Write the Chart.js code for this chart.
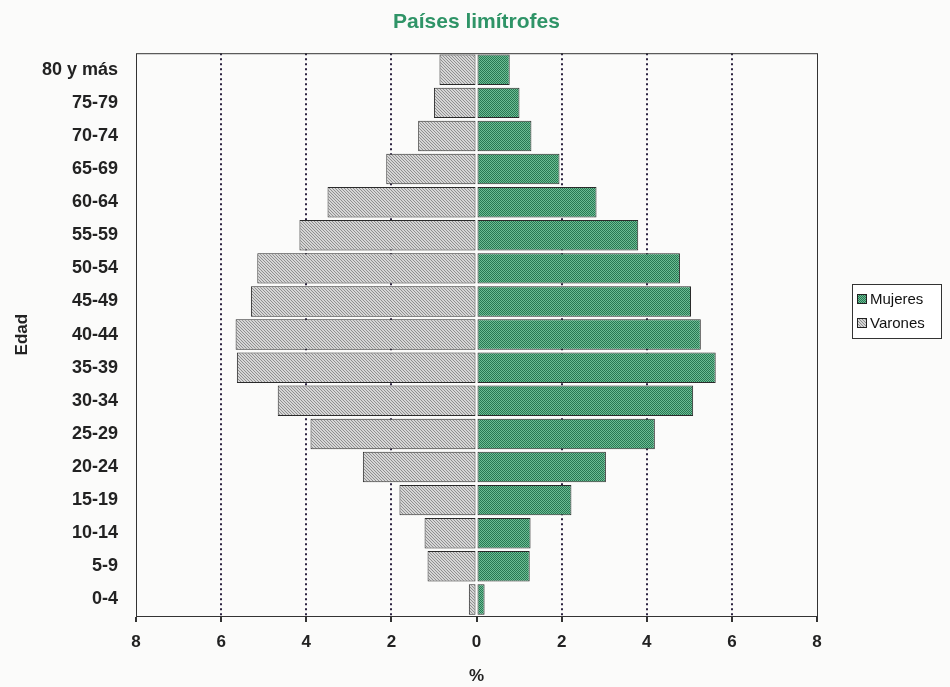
<!DOCTYPE html>
<html>
<head>
<meta charset="utf-8">
<script src="https://cdn.jsdelivr.net/npm/chart.js@4"></script>
<style>
  html, body { margin: 0; padding: 0; background: #fbfbfa; }
  #wrap { width: 950px; height: 687px; }
</style>
</head>
<body>
<div id="wrap"><canvas id="pyramidChart" width="950" height="687"></canvas></div>
<script>
// Age groups, top to bottom as in the picture
const edades = ['80 y más', '75-79', '70-74', '65-69', '60-64', '55-59', '50-54', '45-49',
  '40-44', '35-39', '30-34', '25-29', '20-24', '15-19', '10-14', '5-9', '0-4'];
// Percent of population
const mujeres = [0.78, 1.01, 1.29, 1.95, 2.82, 3.8, 4.78, 5.04, 5.27, 5.62, 5.09, 4.19, 3.04, 2.23, 1.27, 1.25, 0.19];
const varones = [0.87, 1.0, 1.37, 2.12, 3.5, 4.16, 5.15, 5.3, 5.66, 5.63, 4.67, 3.9, 2.67, 1.81, 1.22, 1.15, 0.18];
const xTicks = [-8, -6, -4, -2, 0, 2, 4, 6, 8];

const FONT = '"Liberation Sans", Arial, sans-serif';

// dithered green fill
function greenPattern() {
  const c = document.createElement('canvas');
  c.width = 2; c.height = 2;
  const g = c.getContext('2d');
  g.fillStyle = '#6cbd94';
  g.fillRect(0, 0, 2, 2);
  g.fillStyle = '#287752';
  g.fillRect(0, 0, 1, 1);
  g.fillRect(1, 1, 1, 1);
  return g.createPattern(c, 'repeat');
}

// hatched grey fill
function greyPattern() {
  const c = document.createElement('canvas');
  c.width = 3; c.height = 3;
  const g = c.getContext('2d');
  g.fillStyle = '#d6d6d6';
  g.fillRect(0, 0, 3, 3);
  g.fillStyle = '#8f8f8f';
  for (let i = 0; i < 3; i++) g.fillRect(i, i, 1, 1);
  return g.createPattern(c, 'repeat');
}

const fillMujeres = greenPattern();
const fillVarones = greyPattern();

// frame around the plot area
const framePlugin = {
  id: 'frame',
  afterDatasetsDraw(chart) {
    const a = chart.chartArea, ctx = chart.ctx;
    ctx.save();
    ctx.strokeStyle = '#333';
    ctx.lineWidth = 1;
    ctx.strokeRect(a.left + 0.5, a.top + 0.5, a.right - a.left, a.bottom - a.top);
    ctx.restore();
  }
};

// boxed legend on the right
const boxLegend = {
  id: 'boxLegend',
  afterDraw(chart) {
    const ctx = chart.ctx;
    const items = [chart.data.datasets[0], chart.data.datasets[1]];
    const x = 852, y = 284, w = 89, h = 54;
    ctx.save();
    ctx.fillStyle = '#fff';
    ctx.fillRect(x, y, w, h);
    ctx.strokeStyle = '#333';
    ctx.lineWidth = 1;
    ctx.strokeRect(x + 0.5, y + 0.5, w, h);
    ctx.font = '15px ' + FONT;
    ctx.textBaseline = 'middle';
    items.forEach((ds, i) => {
      const cy = y + 15 + i * 24;
      ctx.fillStyle = ds.backgroundColor;
      ctx.fillRect(x + 5, cy - 5, 10, 10);
      ctx.strokeStyle = '#222';
      ctx.strokeRect(x + 5.5, cy - 4.5, 9, 9);
      ctx.fillStyle = '#111';
      ctx.fillText(ds.label, x + 18, cy + 1);
    });
    ctx.restore();
  }
};

const ctx = document.getElementById('pyramidChart').getContext('2d');
const pyramidChart = new Chart(ctx, {
  type: 'bar',
  data: {
    labels: edades,
    datasets: [{
      label: 'Mujeres',
      data: mujeres,
      backgroundColor: fillMujeres,
      borderColor: '#2a2a2a',
      borderWidth: 1,
      borderSkipped: false,
      barPercentage: 0.92,
      categoryPercentage: 1
    }, {
      label: 'Varones',
      data: varones.map(v => -v),
      backgroundColor: fillVarones,
      borderColor: '#2a2a2a',
      borderWidth: 1,
      borderSkipped: false,
      barPercentage: 0.92,
      categoryPercentage: 1
    }]
  },
  options: {
    indexAxis: 'y',
    responsive: false,
    animation: false,
    layout: { padding: { left: 8, right: 133, top: 0, bottom: 0 } },
    plugins: {
      legend: { display: false },
      tooltip: { enabled: false },
      title: {
        display: true,
        fullSize: false,
        text: 'Países limítrofes',
        color: '#2f9467',
        font: { family: FONT, size: 21, weight: 'bold' },
        padding: { top: 10, bottom: 18 }
      }
    },
    scales: {
      x: {
        stacked: true,
        min: -8,
        max: 8,
        afterBuildTicks(scale) {
          scale.ticks = xTicks.map(v => ({ value: v }));
        },
        afterFit(scale) { scale.height = 71; },
        ticks: {
          color: '#222',
          font: { family: FONT, size: 17, weight: 'bold' },
          padding: 10,
          callback: v => Math.abs(v)
        },
        grid: {
          color: c => (c.tick && (c.tick.value === 0 || Math.abs(c.tick.value) === 8)) ? 'rgba(0,0,0,0)' : '#2c2340',
          lineWidth: 2,
          tickColor: '#333',
          tickLength: 6,
          drawOnChartArea: true
        },
        border: { display: true, color: '#333', dash: [2, 3] },
        title: {
          display: true,
          text: '%',
          color: '#222',
          font: { family: FONT, size: 17, weight: 'bold' },
          padding: { top: 4, bottom: 0 }
        }
      },
      y: {
        stacked: true,
        afterFit(scale) { scale.width = 128; },
        ticks: {
          color: '#222',
          font: { family: FONT, size: 18, weight: 'bold' },
          padding: 10
        },
        grid: { display: false },
        border: { display: false },
        title: {
          display: true,
          text: 'Edad',
          color: '#222',
          font: { family: FONT, size: 17, weight: 'bold' },
          padding: { bottom: 0 }
        }
      }
    }
  },
  plugins: [framePlugin, boxLegend]
});
</script>
</body>
</html>
